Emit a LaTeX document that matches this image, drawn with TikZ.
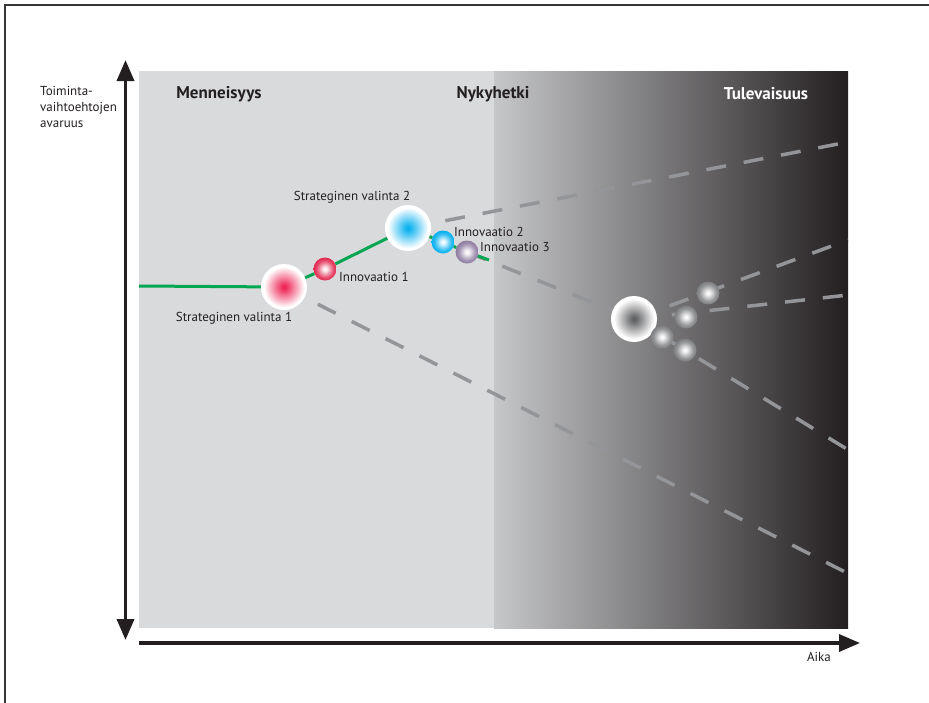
\documentclass[tikz,border=0pt]{standalone}
\usepackage{fontspec}
\setmainfont{PT Sans}
\usetikzlibrary{arrows.meta}
\definecolor{ink}{HTML}{231F20}
\definecolor{pastgray}{HTML}{D9DADC}
\definecolor{nowgray}{HTML}{C6C7C9}
\definecolor{pathgreen}{HTML}{00A651}
\definecolor{dashgray}{HTML}{939598}
\definecolor{choicered}{HTML}{ED1C4F}
\definecolor{innored}{HTML}{E2264E}
\definecolor{choiceblue}{HTML}{00AEEF}
\definecolor{innopurple}{HTML}{8D7AA0}
\definecolor{futuregray}{HTML}{58595B}
\definecolor{spheregray}{HTML}{7C7D80}
\colorlet{ballin}{white}
\colorlet{ballout}{white}
\pgfdeclareradialshading[ballin]{bigball}{\pgfpoint{0bp}{0bp}}{color(0bp)=(ballin); color(4bp)=(ballin!85!white); color(22bp)=(white); color(25bp)=(white); color(50bp)=(white)}
\pgfdeclareradialshading[ballout]{smallball}{\pgfpoint{0bp}{0bp}}{color(0bp)=(white); color(4bp)=(white!90!ballout); color(18bp)=(ballout!80!white); color(25bp)=(ballout); color(50bp)=(ballout)}

\begin{document}
\begin{tikzpicture}[x=1pt,y=-1pt,
  txt/.style={font=\fontsize{13}{16}\selectfont,text=ink,inner sep=0pt},
  era/.style={font=\fontsize{17}{20}\selectfont\bfseries,inner sep=0pt},
  bigball/.style={circle,inner sep=0pt,minimum size=46pt,
    /utils/exec={\colorlet{ballin}{#1}},shading=bigball},
  smallball/.style={circle,inner sep=0pt,minimum size=23pt,
    /utils/exec={\colorlet{ballout}{#1}},shading=smallball},
  axis/.style={line width=3.5pt,draw=ink,-{Triangle[length=21pt,width=17pt]}},
  option/.style={line width=3.5pt,draw=dashgray,dash pattern=on 20pt off 18pt},
  chosen/.style={line width=3pt,draw=pathgreen}]
  \useasboundingbox (0,0) rectangle (929,702);
  \fill[white] (0,0) rectangle (929,702);
  \draw[line width=2pt,draw=ink!90] (5,720) -- (5,5) -- (940,5);

  \fill[pastgray] (139,71) rectangle (494,628);
  \shade[left color=nowgray,right color=ink] (494,71) rectangle (848,628);

  \coordinate (start) at (139,286);
  \coordinate (sv1c) at (284,287);
  \coordinate (sv2c) at (408,228);
  \coordinate (in3c) at (467,252);
  \coordinate (futc) at (634,319);
  \coordinate (f1) at (848,142);
  \coordinate (f2) at (855,577);
  \coordinate (f4) at (850,451);
  \coordinate (f5) at (848,240);
  \coordinate (f6) at (848,295);
  \coordinate (pathend) at (489,260);

  \begin{scope}
    \clip (139,71) rectangle (856,628);
    \draw[option] (sv2c) -- (f1);
    \draw[option] (sv1c) -- (f2);
    \draw[option] (in3c) -- (futc);
    \draw[option] (futc) -- (f4);
    \draw[option] (futc) -- (f5);
    \draw[option] (futc) -- (f6);
  \end{scope}

  \node[bigball=choicered] (sv1) at (sv1c) {};
  \node[smallball=innored] (in1) at (325,269) {};
  \node[bigball=choiceblue] (sv2) at (sv2c) {};
  \node[smallball=choiceblue] (in2) at (443,242) {};
  \node[smallball=innopurple] (in3) at (in3c) {};
  \node[bigball=futuregray] (fut) at (futc) {};
  \node[smallball=spheregray] (g1) at (708,293) {};
  \node[smallball=spheregray] (g2) at (686,317) {};
  \node[smallball=spheregray] (g3) at (662,337) {};
  \node[smallball=spheregray] (g4) at (685,350) {};

  \draw[chosen] (start) -- (sv1) -- (in1) -- (sv2) -- (in2) -- (in3) -- (pathend);

  \draw[axis,{Triangle[length=21pt,width=17pt]}-{Triangle[length=21pt,width=17pt]}] (125.5,60) -- (125.5,640);
  \draw[axis] (139,643) -- (860,643);

  \node[txt,anchor=west,align=left] (space) at (40,107) {Toiminta-\\vaihtoehtojen\\avaruus};
  \node[txt] (time) at (819,657) {Aika};
  \node[era,text=ink] (past) at (219,94) {Menneisyys};
  \node[era,text=ink] (now) at (493,94) {Nykyhetki};
  \node[era,text=white] (future) at (766,94) {Tulevaisuus};
  \node[txt] (sv1lab) at (234,318) {Strateginen valinta 1};
  \node[txt] (sv2lab) at (352,197) {Strateginen valinta 2};
  \node[txt,anchor=west] (in1lab) at (339,277) {Innovaatio 1};
  \node[txt,anchor=west] (in2lab) at (454,232) {Innovaatio 2};
  \node[txt,anchor=west] (in3lab) at (480,247) {Innovaatio 3};
\end{tikzpicture}
\end{document}
